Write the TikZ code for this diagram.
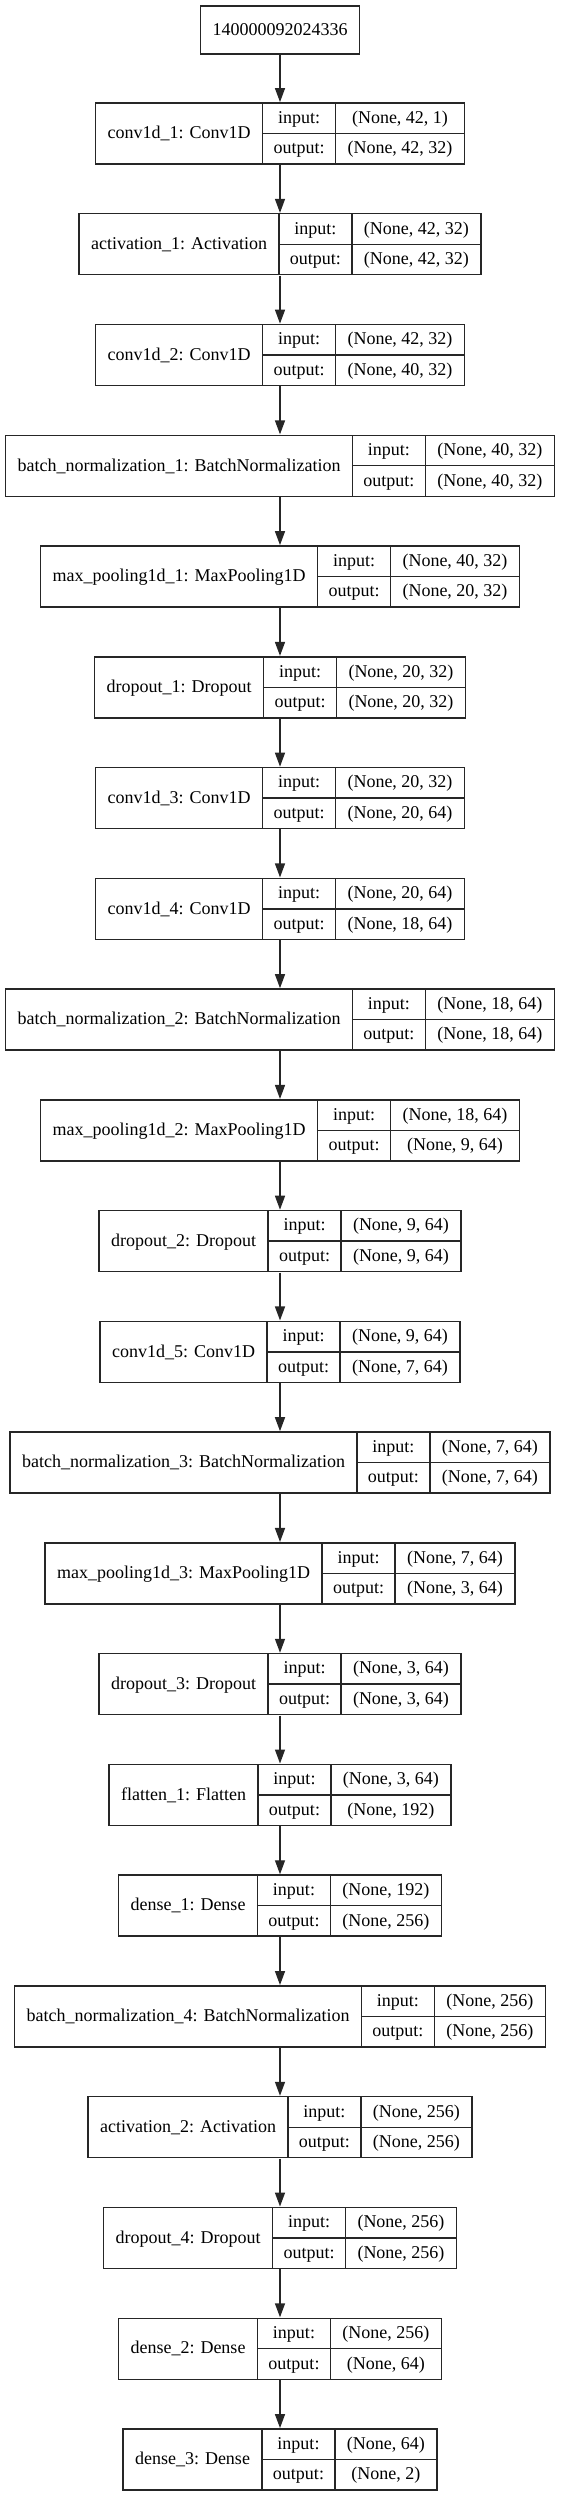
\documentclass[tikz,border=0pt]{standalone}
\usepackage{fontspec}
\setmainfont{Liberation Serif}
\usetikzlibrary{arrows.meta,positioning}

\newcommand{\cellfont}{\fontsize{18}{30.5}\selectfont}
\newcommand{\st}{\rule[-3.5pt]{0pt}{17.5pt}}
\newcommand{\layer}[6][110.76pt]{%
  \matrix (#2) [rec, below =#1 of #3] {
    \node (#2n) [namecell] {#4}; \&
    \node (#2io) [iocell] {\st input:\\\st output:}; \&
    \node (#2v) [valcell] {\st #5\\\st #6}; \\
  };
  \draw [cellline] (#2io.west) -- (#2v.east);
}

\tikzset{
  cellline/.style={draw=black!85, line width=1.4pt},
  namecell/.style={cellline, anchor=center, minimum height=61pt, inner xsep=12pt,
    inner ysep=0pt, text height=14pt, text depth=3.5pt},
  iocell/.style={cellline, anchor=center, minimum height=61pt, minimum width=73pt,
    inner xsep=11pt, inner ysep=0pt, align=center},
  valcell/.style={cellline, anchor=center, minimum height=61pt, inner xsep=12pt,
    inner ysep=0pt, align=center},
  topbox/.style={cellline, minimum height=48pt, inner xsep=12pt, inner ysep=0pt,
    text height=14pt, text depth=3.5pt},
  rec/.style={inner sep=0pt, ampersand replacement=\&, column sep=-1.4pt},
  arr/.style={-{Triangle[length=14pt,width=10pt]}, line width=1.4pt, draw=black!85}
}

\begin{document}
\begin{tikzpicture}[x=1pt, y=-1pt, on grid, node distance=110.76pt, font=\cellfont]
  \useasboundingbox (0,0) rectangle (560,2495);
  % input node
  \node (in) [topbox] at (280,30) {140000092024336};
  % layers, one under another
  \layer[103.5pt]{conv1}{in}{conv1d\_1: Conv1D}{(None, 42, 1)}{(None, 42, 32)}
  \layer{act1}{conv1}{activation\_1: Activation}{(None, 42, 32)}{(None, 42, 32)}
  \layer{conv2}{act1}{conv1d\_2: Conv1D}{(None, 42, 32)}{(None, 40, 32)}
  \layer{bn1}{conv2}{batch\_normalization\_1: BatchNormalization}{(None, 40, 32)}{(None, 40, 32)}
  \layer{pool1}{bn1}{max\_pooling1d\_1: MaxPooling1D}{(None, 40, 32)}{(None, 20, 32)}
  \layer{drop1}{pool1}{dropout\_1: Dropout}{(None, 20, 32)}{(None, 20, 32)}
  \layer{conv3}{drop1}{conv1d\_3: Conv1D}{(None, 20, 32)}{(None, 20, 64)}
  \layer{conv4}{conv3}{conv1d\_4: Conv1D}{(None, 20, 64)}{(None, 18, 64)}
  \layer{bn2}{conv4}{batch\_normalization\_2: BatchNormalization}{(None, 18, 64)}{(None, 18, 64)}
  \layer{pool2}{bn2}{max\_pooling1d\_2: MaxPooling1D}{(None, 18, 64)}{(None, 9, 64)}
  \layer{drop2}{pool2}{dropout\_2: Dropout}{(None, 9, 64)}{(None, 9, 64)}
  \layer{conv5}{drop2}{conv1d\_5: Conv1D}{(None, 9, 64)}{(None, 7, 64)}
  \layer{bn3}{conv5}{batch\_normalization\_3: BatchNormalization}{(None, 7, 64)}{(None, 7, 64)}
  \layer{pool3}{bn3}{max\_pooling1d\_3: MaxPooling1D}{(None, 7, 64)}{(None, 3, 64)}
  \layer{drop3}{pool3}{dropout\_3: Dropout}{(None, 3, 64)}{(None, 3, 64)}
  \layer{flat}{drop3}{flatten\_1: Flatten}{(None, 3, 64)}{(None, 192)}
  \layer{dense1}{flat}{dense\_1: Dense}{(None, 192)}{(None, 256)}
  \layer{bn4}{dense1}{batch\_normalization\_4: BatchNormalization}{(None, 256)}{(None, 256)}
  \layer{act2}{bn4}{activation\_2: Activation}{(None, 256)}{(None, 256)}
  \layer{drop4}{act2}{dropout\_4: Dropout}{(None, 256)}{(None, 256)}
  \layer{dense2}{drop4}{dense\_2: Dense}{(None, 256)}{(None, 64)}
  \layer{dense3}{dense2}{dense\_3: Dense}{(None, 64)}{(None, 2)}
  % directed edges
  \foreach \a/\b in {in/conv1, conv1/act1, act1/conv2, conv2/bn1, bn1/pool1, pool1/drop1,
    drop1/conv3, conv3/conv4, conv4/bn2, bn2/pool2, pool2/drop2, drop2/conv5, conv5/bn3,
    bn3/pool3, pool3/drop3, drop3/flat, flat/dense1, dense1/bn4, bn4/act2, act2/drop4,
    drop4/dense2, dense2/dense3}
    \draw [arr] (\a) -- (\b);
\end{tikzpicture}
\end{document}
